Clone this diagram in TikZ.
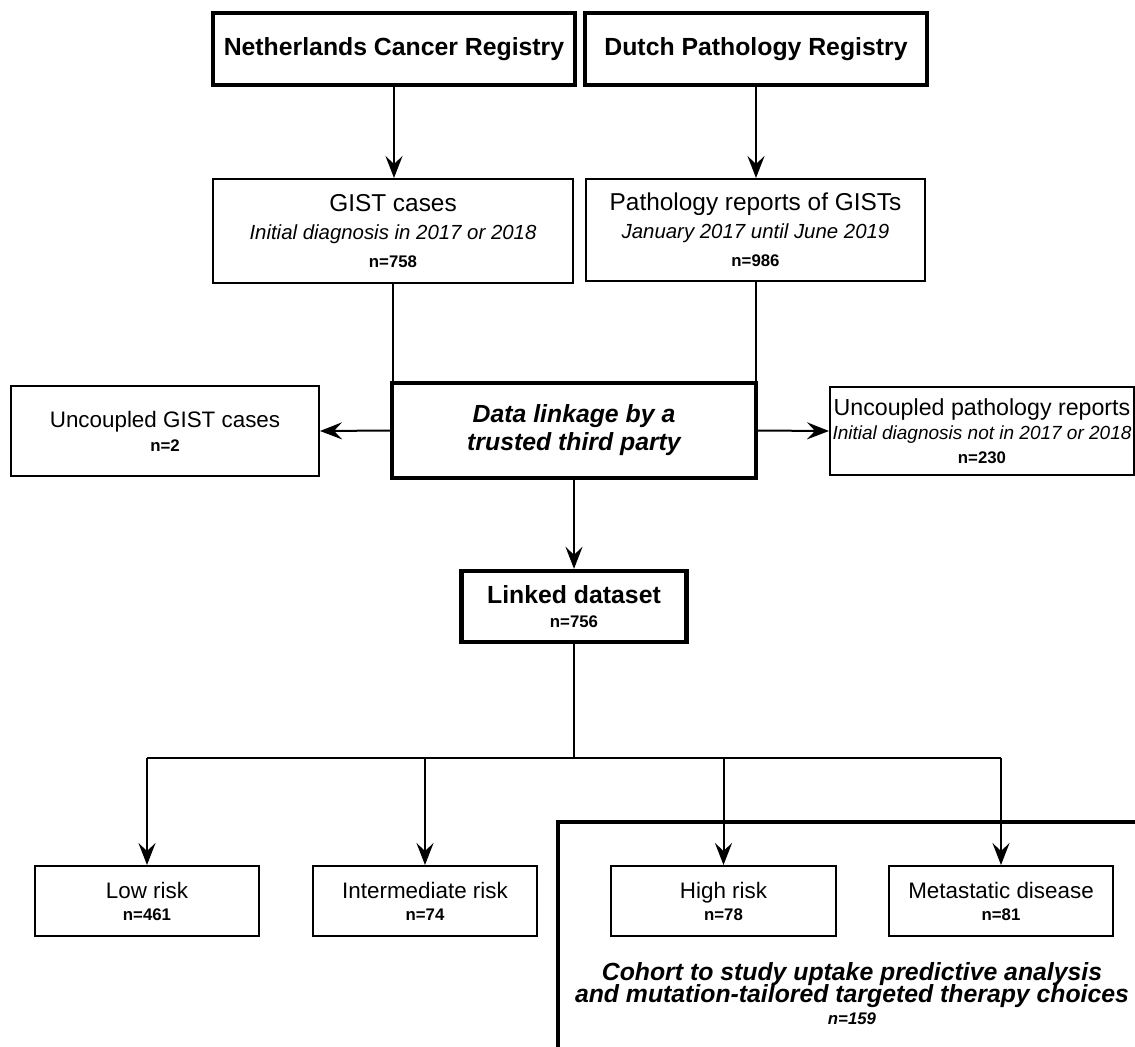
\documentclass[tikz,border=0pt]{standalone}
\usepackage{fontspec}
\setmainfont{Liberation Sans}
\usetikzlibrary{arrows.meta}
\newcommand{\nval}[1]{{\fontsize{8.4}{14}\selectfont\bfseries #1}}
\newcommand{\note}[1]{{\fontsize{10.2}{14}\selectfont\itshape #1}}

\begin{document}
\begin{tikzpicture}[x=0.5pt,y=-0.5pt,line width=1pt,line join=miter,
		box/.style={draw,rectangle,inner sep=0pt,align=center,font=\fontsize{11.2}{14}\selectfont},
		bigbox/.style={box,line width=2.2pt,font=\fontsize{12.4}{14}\selectfont\bfseries},
		arr/.style={-{Stealth[length=11pt,width=8.5pt,inset=4pt]}}]
		\useasboundingbox (0,0) rectangle (1135,1046);
		\clip (0,0) rectangle (1135,1046);
		
		\begin{scope}
			\node[bigbox,minimum width=181pt,minimum height=36pt] (ncr) at (394,49) {Netherlands Cancer Registry};
			\node[bigbox,minimum width=171pt,minimum height=36pt] (dpr) at (756,49) {Dutch Pathology Registry};
			\node[bigbox,font=\fontsize{12.4}{14}\selectfont\bfseries\itshape,minimum width=182pt,minimum height=47.5pt] (link) at (574,430.5) {Data linkage by a\\trusted third party};
			\node[bigbox,minimum width=112.5pt,minimum height=35.5pt] (linked) at (574,606.5) {Linked dataset\\[-2pt]\nval{n=756}};
		\end{scope}
		
		\node[box,font=\fontsize{12.2}{14}\selectfont,minimum width=180pt,minimum height=52pt] (gist) at (393,231) {GIST cases\\\note{Initial diagnosis in 2017 or 2018}\\\nval{n=758}};
		\node[box,font=\fontsize{12.2}{14}\selectfont,minimum width=169.5pt,minimum height=51pt] (path) at (755.5,230) {Pathology reports of GISTs\\\note{January 2017 until June 2019}\\\nval{n=986}};
		
		\node[box,minimum width=154pt,minimum height=45pt] (ugist) at (165,431) {Uncoupled GIST cases\\[-2pt]\nval{n=2}};
		\node[box,font=\fontsize{11.6}{14}\selectfont,minimum width=152pt,minimum height=44pt] (upath) at (982,431) {Uncoupled pathology reports\\[-2pt]{\fontsize{9.5}{14}\selectfont\itshape Initial diagnosis not in 2017 or 2018}\\[-2pt]\nval{n=230}};
		
		\node[box,minimum width=112pt,minimum height=35pt] (low) at (147,901) {Low risk\\[-3pt]\nval{n=461}};
		\node[box,minimum width=112pt,minimum height=35pt] (inter) at (425,901) {Intermediate risk\\[-3pt]\nval{n=74}};
		\node[box,minimum width=112.5pt,minimum height=35pt] (high) at (723.5,901) {High risk\\[-3pt]\nval{n=78}};
		\node[box,minimum width=112pt,minimum height=35pt] (meta) at (1001,901) {Metastatic disease\\[-3pt]\nval{n=81}};
		
		\draw[line width=2.2pt] (558,822) rectangle (1150,1070);
		\node[align=center,font=\fontsize{12.4}{14}\selectfont\bfseries\itshape] (cohort) at (852,994) {Cohort to study uptake predictive analysis\\[-3pt]and mutation-tailored targeted therapy choices\\[-3pt]{\fontsize{8.4}{14}\selectfont n=159}};
		
		\draw[arr] (ncr.south) to (ncr.south |- gist.north);
		\draw[arr] (dpr.south) to (dpr.south |- path.north);
		\draw (gist.south) to (gist.south |- link.north);
		\draw (path.south) to (path.south |- link.north);
		\draw[arr] (link.west) to (ugist.east);
		\draw[arr] (link.east) to (upath.west);
		\draw[arr] (link.south) to (linked.north);
		
		\coordinate (split) at (574,758);
		\draw (linked.south) to (split);
		\draw (low.north |- split) to (meta.north |- split);
		\foreach \n in {low,inter,high,meta}
			\draw[arr] (\n.north |- split) to (\n.north);
\end{tikzpicture}
\end{document}
